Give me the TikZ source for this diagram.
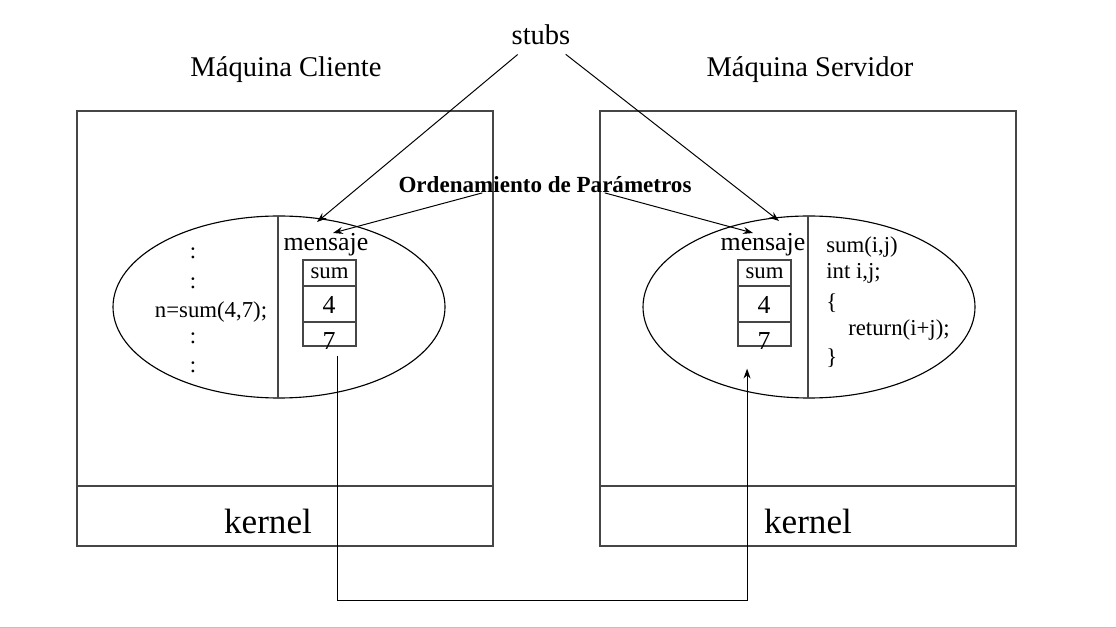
\documentclass[tikz,border=0pt]{standalone}
\usepackage{fontspec}
\setmainfont{Liberation Serif}
\usetikzlibrary{arrows.meta}
\definecolor{framegray}{RGB}{70,70,70}
\definecolor{edgegray}{RGB}{190,190,205}

\tikzset{
  frame/.style={line width=1.4pt, framegray},
  cell/.style={draw, line width=1.1pt, framegray, minimum width=37.6pt, inner sep=0pt},
  ptr/.style={-{Stealth[length=7pt,width=5pt]}, line width=0.7pt},
  big/.style={font=\fontsize{20.3}{24}\selectfont},
  mid/.style={font=\fontsize{18.4}{22}\selectfont},
  code/.style={font=\fontsize{16.2}{19}\selectfont},
}

\begin{document}
\begin{tikzpicture}[x=0.025cm, y=-0.025cm]
    \useasboundingbox (0,0) rectangle (1116,628);
    \fill[edgegray] (0,626.5) rectangle (1116,628);

    % the two machines
    \draw[frame] (77,111) rectangle (493,546);
    \draw[frame] (77,486) -- (493,486);
    \draw[frame] (600,111) rectangle (1016,546);
    \draw[frame] (600,486) -- (1016,486);
    \node (kerA) at (268,521) [font=\fontsize{25}{30}\selectfont] {kernel};
    \node (kerB) at (808,521) [font=\fontsize{25}{30}\selectfont] {kernel};
    \node (cli) at (286,70) [big] {Máquina Cliente};
    \node (srv) at (810,70) [big] {Máquina Servidor};

    % processes
    \draw[line width=0.8pt] (279,307) ellipse [x radius=166, y radius=91];
    \draw[frame] (278,216) -- (278,398);
    \draw[line width=0.8pt] (809,307) ellipse [x radius=166, y radius=91];
    \draw[frame] (808,216) -- (808,398);

    % client side
    \node (dotA1) at (193,253) [code] {:};
    \node (dotA2) at (193,283) [code] {:};
    \node (call) at (211,312) [code] {n=sum(4,7);};
    \node (dotA3) at (193,338) [code] {:};
    \node (dotA4) at (193,367) [code] {:};
    \node (msgA) at (326,245) [mid] {mensaje};
    \node (cellA1) at (329.5,273) [cell, minimum height=18.4pt] {};
    \node (cellA2) at (329.5,304) [cell, minimum height=25.5pt] {};
    \node (cellA3) at (329.5,334) [cell, minimum height=17pt] {};
    \node at (cellA1) [code] {sum};
    \node (numA4) at (329,305) [mid] {4};
    \node (numA7) at (329,341) [mid] {7};

    % server side
    \node (msgB) at (763,245) [mid] {mensaje};
    \node (cellB1) at (764.5,273) [cell, minimum height=18.4pt] {};
    \node (cellB2) at (764.5,304) [cell, minimum height=25.5pt] {};
    \node (cellB3) at (764.5,334) [cell, minimum height=17pt] {};
    \node at (cellB1) [code] {sum};
    \node (numB4) at (764,305) [mid] {4};
    \node (numB7) at (764,341) [mid] {7};
    \node (def1) at (826,247) [code, anchor=west, inner sep=0pt] {sum(i,j)};
    \node (def2) at (826,273) [code, anchor=west, inner sep=0pt] {int i,j;};
    \node (def3) at (826,303) [code, anchor=west, inner sep=0pt] {\{};
    \node (def4) at (848,330) [code, anchor=west, inner sep=0pt] {return(i+j);};
    \node (def5) at (826,358) [code, anchor=west, inner sep=0pt] {\}};

    % labels and pointers
    \node (stubs) at (541,35) [big] {stubs};
    \node (ord) at (545,185) [font=\fontsize{16.4}{19}\selectfont\bfseries] {Ordenamiento de Parámetros};
    \coordinate (tipA) at (317,222);
    \coordinate (tipB) at (779,221);
    \coordinate (tipC) at (333,233);
    \coordinate (tipD) at (753,233);
    \draw[ptr, shorten <=5pt] (stubs) -- (tipA);
    \draw[ptr, shorten <=5pt] (stubs) -- (tipB);
    \draw[ptr] ([xshift=-44.6pt]ord.base) -- (tipC);
    \draw[ptr] ([xshift=42.5pt]ord.base) -- (tipD);

    % message through the network
    \draw[ptr] ([xshift=6pt, yshift=-6.4pt]cellA3.south) -- ++(0,245) -| ([xshift=-12.4pt, yshift=-15.6pt]cellB3.south);
  \end{tikzpicture}
\end{document}
